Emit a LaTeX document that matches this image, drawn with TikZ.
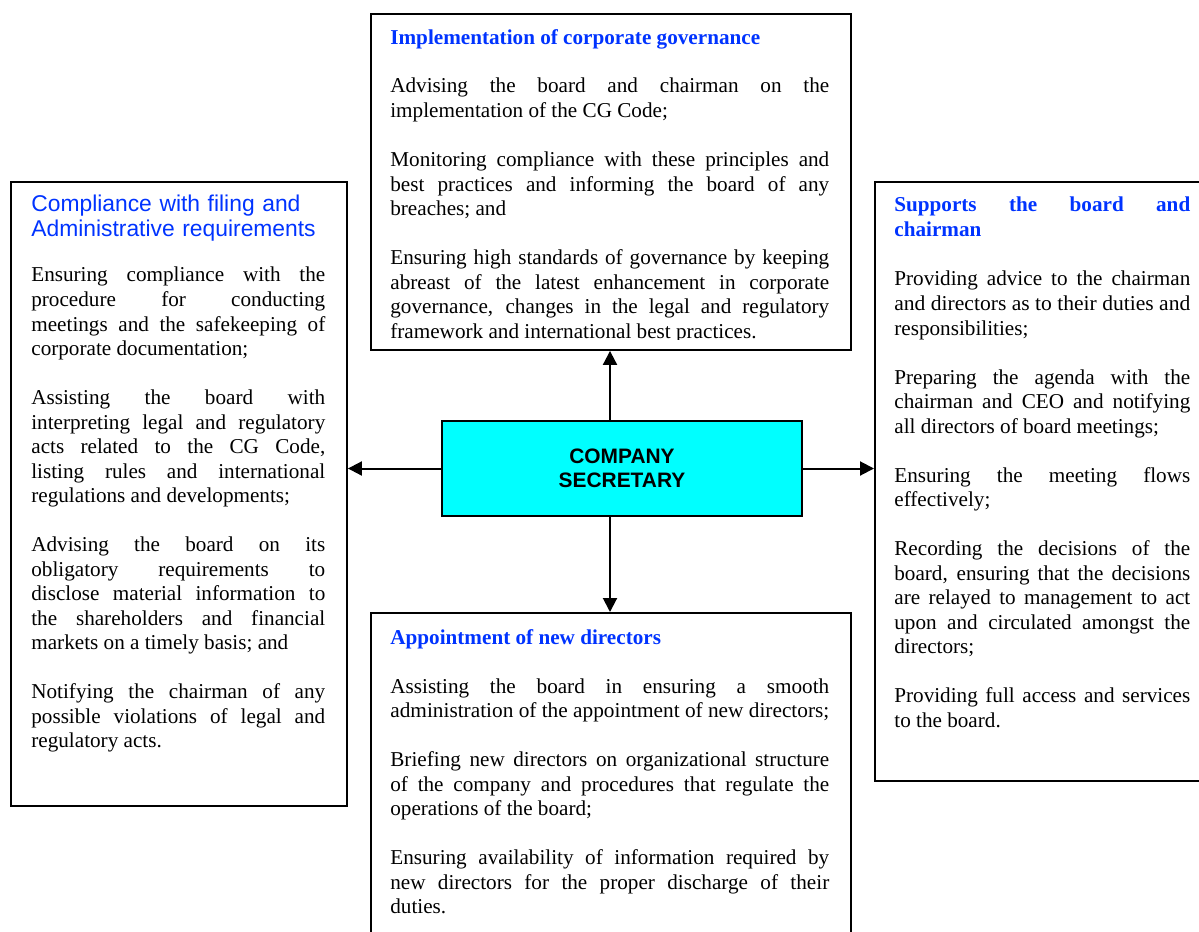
\documentclass[tikz,border=0pt]{standalone}
\usepackage{fontspec}
\setmainfont{Liberation Serif}
\setsansfont{Liberation Sans}
\usepackage{tikz}
\usetikzlibrary{arrows.meta,positioning,calc}
\usepackage{xcolor}
\definecolor{headblue}{HTML}{0033FF}
\definecolor{hubcyan}{HTML}{00FFFF}
\newcommand{\bodysize}{\fontsize{12.05}{13.95}\selectfont}
\newcommand{\paragap}{\\[13.95pt]}
\newcommand{\fitline}[1]{\resizebox{\linewidth}{\height}{#1}}

\begin{document}
\begin{tikzpicture}[x=0.02cm, y=-0.02cm,
  panel/.style={draw, line width=0.04cm, anchor=north west, inner sep=0pt},
  blurb/.style={anchor=base west, inner sep=0pt, align=justify,
                font=\bodysize, text=black},
  heading/.style={blurb, font=\bodysize\bfseries, text=headblue},
  hub/.style={rectangle, draw, line width=0.04cm, fill=hubcyan,
              minimum width=7.2cm, minimum height=1.9cm, align=center,
              font=\sffamily\bfseries\fontsize{11.9}{13.6}\selectfont},
  link/.style={-{Triangle[length=0.28cm, width=0.28cm]}, line width=0.04cm},
]
  \useasboundingbox (0,0) rectangle (1199,932);
  \clip (0,0) rectangle (1199,932);

  % the four duty panels
  \node[panel, minimum width=9.6cm, minimum height=6.72cm] (govbox) at (370,13) {};
  \node[panel, minimum width=6.72cm, minimum height=12.48cm] (filebox) at (10,181) {};
  \node[panel, minimum width=6.72cm, minimum height=11.98cm] (boardbox) at (874,181) {};
  \node[panel, minimum width=9.6cm, minimum height=7cm] (apptbox) at (370,612) {};

  % centre
  \node[hub] (hub) at (622,468.5) {COMPANY\\SECRETARY};

  % top panel text
  \node[heading, text width=8.78cm] (govhead) at (390,45) {Implementation of corporate governance};
  \begin{scope}
    \clip (govbox.north west) rectangle ([yshift=0.22cm]govbox.south east);
    \node[blurb, text width=8.78cm] (govtext) at (390,93) {%
      Advising the board and chairman on the\linebreak
      implementation of the CG Code;\paragap
      Monitoring compliance with these principles and\linebreak
      best practices and informing the board of any\linebreak
      breaches; and\paragap
      Ensuring high standards of governance by keeping\linebreak
      abreast of the latest enhancement in corporate\linebreak
      governance, changes in the legal and regulatory\linebreak
      framework and international best practices.};
  \end{scope}

  % left panel text
  \node[blurb, text width=5.88cm, align=left, text=headblue,
        font=\sffamily\fontsize{13}{14.2}\selectfont] (filehead) at (31,212)
    {Compliance with filing and\\Administrative requirements};
  \node[blurb, text width=5.88cm] (filetext) at (31,282) {%
    Ensuring compliance with the\linebreak
    procedure for conducting\linebreak
    meetings and the safekeeping of\linebreak
    corporate documentation;\paragap
    Assisting the board with\linebreak
    interpreting legal and regulatory\linebreak
    acts related to the CG Code,\linebreak
    listing rules and international\linebreak
    regulations and developments;\paragap
    Advising the board on its\linebreak
    obligatory requirements to\linebreak
    disclose material information to\linebreak
    the shareholders and financial\linebreak
    markets on a timely basis; and\paragap
    Notifying the chairman of any\linebreak
    possible violations of legal and\linebreak
    regulatory acts.};

  % right panel text
  \node[heading, text width=5.92cm] (boardhead) at (894,212)
    {Supports the board and\linebreak chairman};
  \node[blurb, text width=5.92cm] (boardtext) at (894,286) {%
    Providing advice to the chairman\linebreak
    \fitline{and directors as to their duties and}\linebreak
    responsibilities;\paragap
    Preparing the agenda with the\linebreak
    chairman and CEO and notifying\linebreak
    all directors of board meetings;\paragap
    Ensuring the meeting flows\linebreak
    effectively;\paragap
    Recording the decisions of the\linebreak
    board, ensuring that the decisions\linebreak
    are relayed to management to act\linebreak
    upon and circulated amongst the\linebreak
    directors;\paragap
    Providing full access and services\linebreak
    to the board.};

  % bottom panel text
  \node[heading, text width=8.78cm] (appthead) at (390,644) {Appointment of new directors};
  \node[blurb, text width=8.78cm] (appttext) at (390,693) {%
    Assisting the board in ensuring a smooth\linebreak
    \fitline{administration of the appointment of new directors;}\paragap
    Briefing new directors on organizational structure\linebreak
    of the company and procedures that regulate the\linebreak
    operations of the board;\paragap
    Ensuring availability of information required by\linebreak
    new directors for the proper discharge of their\linebreak
    duties.};

  % arrows out of the centre
  \draw[link] ([xshift=-0.24cm]hub.north) -- ([xshift=-0.24cm]hub.north |- govbox.south);
  \draw[link] ([xshift=-0.24cm]hub.south) -- ([xshift=-0.24cm]hub.south |- apptbox.north);
  \draw[link] (hub.west) -- (hub.west -| filebox.east);
  \draw[link] (hub.east) -- (hub.east -| boardbox.west);
\end{tikzpicture}
\end{document}
